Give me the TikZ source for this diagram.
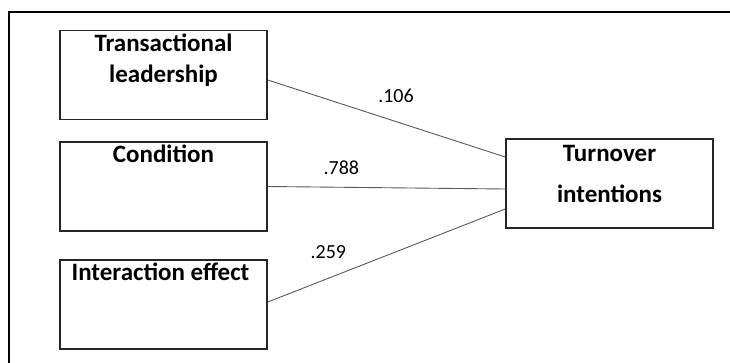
\documentclass[tikz,border=0pt]{standalone}
\usepackage{fontspec}
\setmainfont{Carlito}
\usetikzlibrary{ calc, positioning }
\tikzset{
x=1pt, y=-1pt, % pixel units, y grows downward
every node/.style={inner sep=0pt},
factor/.style={draw=black!85, line width=1.5pt, minimum width=207pt, minimum height=89pt}, % the boxes
boxtext/.style={font=\fontsize{25}{31}\selectfont\bfseries, align=center, anchor=base},
weight/.style={font=\fontsize{20}{24}\selectfont}, % path coefficients
link/.style={draw=black!65, line width=0.9pt},
}

\begin{document}
\begin{tikzpicture}
  \useasboundingbox (0,0) rectangle (730,363);
  % outer frame, cut off at right and bottom
  \draw[line width=2pt] (8.5,363) -- (8.5,12.5) -- (730,12.5);

  \node[factor] (lead) at (163.5,75) {};
  \node[factor] (cond) at (163.5,186.5) {};
  \node[factor] (inter) at (163.5,304.5) {};
  \node[factor] (turn) at (609.5,183.5) {};

  % base anchor sits on the last line
  \node[boxtext] (leadtxt) at ([yshift=-53pt]lead.north) {Transactional\\leadership};
  \node[boxtext] (condtxt) at ([yshift=-21pt]cond.north) {Condition};
  \node[boxtext] (intertxt) at ([xshift=-3pt,yshift=-21pt]inter.north) {Interaction effect};
  \node[boxtext, font=\fontsize{25}{41}\selectfont\bfseries] (turntxt) at ([yshift=-64pt]turn.north) {Turnover\\intentions};

  \path[link]
  ([yshift=-5pt]lead.east) edge node[weight, pos=0.54, above=18pt]{.106} ([yshift=26.5pt]turn.west)
  (cond.east) edge node[weight, pos=0.31, above=12.5pt]{.788} ([yshift=-5.5pt]turn.west)
  ([yshift=2.5pt]inter.east) edge node[weight, pos=0.255, above=19.5pt]{.259} ([yshift=-25.5pt]turn.west);
\end{tikzpicture}
\end{document}
